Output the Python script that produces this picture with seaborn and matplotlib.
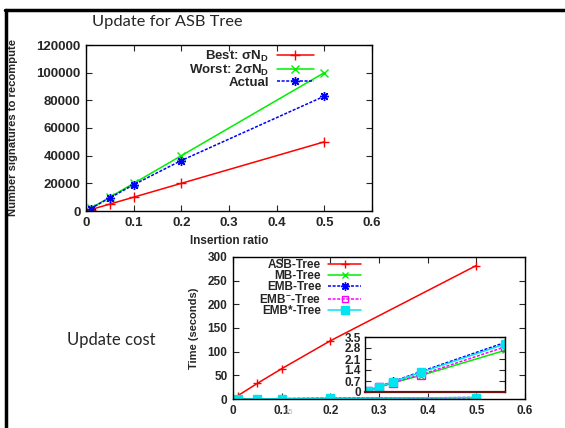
import numpy as np
import pandas as pd
import seaborn as sns
import matplotlib.pyplot as plt
from matplotlib.lines import Line2D

# données
ratio = [0.01, 0.05, 0.1, 0.2, 0.5]

best = [1000, 5000, 10000, 20000, 50000]
worst = [2000, 10000, 20000, 40000, 100000]
actual = [1800, 9500, 19000, 36500, 83000]

asb_time = [7, 33, 64, 123, 282]
mb_time = [0.05, 0.3, 0.6, 1.05, 2.65]
emb_time = [0.07, 0.34, 0.67, 1.3, 3.15]
embm_time = [0.05, 0.3, 0.6, 1.1, 2.87]
embs_time = [0.06, 0.32, 0.65, 1.25, 3.05]

sns.set_style('ticks')
plt.rcParams['font.family'] = ['Liberation Sans', 'DejaVu Sans']
plt.rcParams['font.weight'] = 'bold'
plt.rcParams['axes.labelweight'] = 'bold'
plt.rcParams['mathtext.fontset'] = 'custom'
plt.rcParams['mathtext.rm'] = 'Liberation Sans:bold'
plt.rcParams['mathtext.it'] = 'Liberation Sans:bold'
plt.rcParams['mathtext.bf'] = 'Liberation Sans:bold'

W, H = 565, 428
fig = plt.figure(figsize=(W / 100, H / 100), dpi=100)


def box(x0, y0, x1, y1):
    return [x0 / W, 1 - y1 / H, (x1 - x0) / W, (y1 - y0) / H]


def style_ax(ax, size):
    ax.tick_params(direction='in', top=True, right=True, labelsize=size,
                   length=4, width=0.8, pad=4)
    for s in ax.spines.values():
        s.set_linewidth(1.0)
        s.set_color('black')


def courbe(ax, y, c, m, ls='-', ms=6, fill=None, label=None):
    # seaborn met un contour blanc par defaut sur les marqueurs
    sns.lineplot(x=ratio, y=y, ax=ax, color=c, marker=m, markersize=ms,
                 markeredgecolor=c, markerfacecolor=fill if fill else c,
                 markeredgewidth=1.0, lw=1.1, linestyle=ls, label=label)


# cadre exterieur
fig.add_artist(Line2D([5 / W, 1], [1 - 10 / H, 1 - 10 / H], lw=2.5, color='black'))
fig.add_artist(Line2D([6 / W, 6 / W], [0, 1 - 10 / H], lw=2.5, color='black'))

# 01. graphe du haut
ax1 = fig.add_axes(box(86, 45, 372, 211))
courbe(ax1, best, '#ff0000', '+', ms=6.5, label=r'Best: $\sigma$N$_\mathrm{D}$')
courbe(ax1, worst, '#00ee00', 'x', ms=5.5, label=r'Worst: 2$\sigma$N$_\mathrm{D}$')
courbe(ax1, actual, '#0000ff', (8, 2, 0), ls=(0, (2, 1)), ms=6.5, label='Actual')
ax1.set_xlim(0, 0.6)
ax1.set_ylim(0, 120000)
ax1.set_xticks(np.arange(0, 0.61, 0.1))
ax1.set_xticklabels(['0', '0.1', '0.2', '0.3', '0.4', '0.5', '0.6'])
ax1.set_yticks(range(0, 120001, 20000))
style_ax(ax1, 9.5)
ax1.set_xlabel('Insertion ratio', fontsize=8.5, labelpad=5)
ax1.set_ylabel('Number signatures to recompute', fontsize=8.1, labelpad=13)
ax1.legend(loc='upper right', frameon=False, markerfirst=False, fontsize=9.5,
           handlelength=2.8, labelspacing=-0.1, borderaxespad=0.1,
           handletextpad=0.6, bbox_to_anchor=(0.82, 1.015))

# 02. graphe du bas
ax2 = fig.add_axes(box(233, 257, 525, 399))
courbe(ax2, asb_time, '#ff0000', '+', ms=6, label='ASB-Tree')
courbe(ax2, mb_time, '#00ee00', 'x', ms=5, label='MB-Tree')
courbe(ax2, emb_time, '#0000ff', (8, 2, 0), ls=(0, (2, 1)), ms=6, label='EMB-Tree')
courbe(ax2, embm_time, '#ff00ff', 's', ls=(0, (2, 1)), ms=5, fill='none',
       label=r'EMB$^{-}$-Tree')
courbe(ax2, embs_time, '#00e5ee', 's', ms=5.5, label='EMB*-Tree')
ax2.set_xlim(0, 0.6)
ax2.set_ylim(0, 300)
ax2.set_xticks(np.arange(0, 0.61, 0.1))
ax2.set_xticklabels(['0', '0.1', '0.2', '0.3', '0.4', '0.5', '0.6'])
ax2.set_yticks(range(0, 301, 50))
style_ax(ax2, 8.5)
ax2.set_xlabel('Insertion ratio', fontsize=8, labelpad=8)
ax2.set_ylabel('Time (seconds)', fontsize=8, labelpad=6)
ax2.legend(loc='upper left', frameon=False, markerfirst=False, fontsize=8.5,
           handlelength=2.8, labelspacing=-0.05, borderaxespad=0.1,
           handletextpad=0.6, bbox_to_anchor=(0.07, 1.03))

# 03. encart
ax3 = fig.add_axes(box(365, 337, 505, 392))
courbe(ax3, mb_time, '#00ee00', 'x', ms=5)
courbe(ax3, emb_time, '#0000ff', (8, 2, 0), ls=(0, (2, 1)), ms=6)
courbe(ax3, embm_time, '#ff00ff', 's', ls=(0, (2, 1)), ms=5.5, fill='none')
courbe(ax3, embs_time, '#00e5ee', 's', ms=6)
ax3.set_xlim(0, 0.5)
ax3.set_ylim(0, 3.5)
ax3.set_yticks([0, 0.7, 1.4, 2.1, 2.8, 3.5])
ax3.set_yticklabels(['0', '0.7', '1.4', '2.1', '2.8', '3.5'])
ax3.set_xticks([])
style_ax(ax3, 8.5)
ax3.tick_params(top=False, pad=3)
ax3.spines['bottom'].set_color('#6b1414')
ax3.spines['bottom'].set_linewidth(1.6)

# textes de la diapositive
fig.text(92 / W, 1 - 22 / H, 'Update for ASB Tree', family='Lato', weight='normal',
         fontsize=11.8, va='center', ha='left')
fig.text(67 / W, 1 - 340 / H, 'Update cost', family='Lato', weight='normal',
         fontsize=12, va='center', ha='left')
fig.text(289 / W, 1 - 412 / H, '15', color='#b0b0b0', weight='normal',
         fontsize=5.5, va='center', ha='center')

plt.savefig('out.png', dpi=100)
